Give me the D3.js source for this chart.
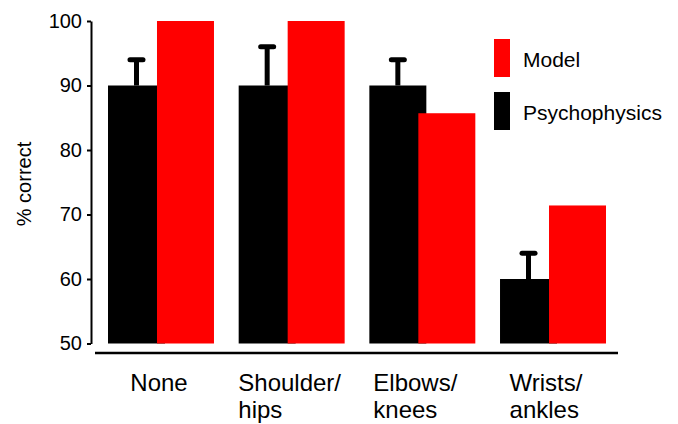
<!DOCTYPE html>
<html>
<head>
<meta charset="utf-8">
<script src="https://cdn.jsdelivr.net/npm/d3@7"></script>
<style>
  html, body { margin: 0; padding: 0; background: #fff; }
  svg { display: block; font-family: "Liberation Sans", Arial, Helvetica, sans-serif; }
</style>
</head>
<body>
<svg id="chart" width="678" height="424"></svg>
<script>
// ---- data ----
const categories = [["None"], ["Shoulder/", "hips"], ["Elbows/", "knees"], ["Wrists/", "ankles"]];
const psychophysics = [90, 90, 90, 60];
const psychophysicsErrTop = [94, 96, 94, 64];
const model = [100, 100, 85.7, 71.4];
const yTicks = [50, 60, 70, 80, 90, 100];
const seriesNames = ["Model", "Psychophysics"];
const seriesColors = ["#ff0000", "#000000"];

// ---- layout ----
const svg = d3.select("#chart");
const keys = categories.map(c => c.join(" "));

const y = d3.scaleLinear().domain([50, 100]).range([343.5, 21]);
const x = d3.scaleBand().domain(keys).range([108, 606]).paddingInner(0.189).paddingOuter(0);
const bw = x.bandwidth();
const barW = bw * 57 / 106;
const redOff = bw * 49 / 106;

// y axis
const yAxis = d3.axisLeft(y).tickValues(yTicks).tickSize(4).tickSizeOuter(0).tickPadding(5);
const gy = svg.append("g").attr("transform", "translate(91,0)").call(yAxis);
gy.select(".domain").attr("stroke", "#000").attr("stroke-width", 2);
gy.selectAll(".tick line").attr("stroke", "#000").attr("stroke-width", 2);
gy.selectAll(".tick text").attr("font-size", 20).attr("fill", "#000")
  .attr("font-family", "Liberation Sans, Arial, sans-serif");

// y label
svg.append("text")
  .attr("transform", "translate(31,184) rotate(-90)")
  .attr("text-anchor", "middle")
  .attr("font-size", 20)
  .text("% correct");

// x axis line
svg.append("line").attr("x1", 95).attr("x2", 618).attr("y1", 353).attr("y2", 353)
  .attr("stroke", "#000").attr("stroke-width", 2.5);

// psychophysics bars (black)
svg.append("g").selectAll("rect").data(psychophysics).join("rect")
  .attr("x", (d, i) => x(keys[i]))
  .attr("y", d => y(d))
  .attr("width", barW)
  .attr("height", d => y(50) - y(d))
  .attr("fill", seriesColors[1]);

// model bars (red)
svg.append("g").selectAll("rect").data(model).join("rect")
  .attr("x", (d, i) => x(keys[i]) + redOff)
  .attr("y", d => y(d))
  .attr("width", barW)
  .attr("height", d => y(50) - y(d))
  .attr("fill", seriesColors[0]);

// error bars
const eg = svg.append("g");
psychophysics.forEach((v, i) => {
  const cx = x(keys[i]) + barW / 2;
  eg.append("line").attr("x1", cx).attr("x2", cx)
    .attr("y1", y(v)).attr("y2", y(psychophysicsErrTop[i]))
    .attr("stroke", "#000").attr("stroke-width", 5);
  eg.append("line").attr("x1", cx - 6.5).attr("x2", cx + 6.5)
    .attr("y1", y(psychophysicsErrTop[i])).attr("y2", y(psychophysicsErrTop[i]))
    .attr("stroke", "#000").attr("stroke-width", 5).attr("stroke-linecap", "round");
});

// category labels
const lg = svg.append("g");
categories.forEach((lines, i) => {
  const cx = x(keys[i]) + bw / 2;
  const t1 = lg.append("text").attr("font-size", 24).attr("y", 391).text(lines[0]);
  const w = t1.node().getComputedTextLength();
  const left = cx - w / 2 - 2 - (i >= 2 ? 5 : 0);
  t1.attr("x", left);
  if (lines[1]) {
    lg.append("text").attr("font-size", 24).attr("x", left).attr("y", 418).text(lines[1]);
  }
});

// legend
const leg = svg.append("g");
seriesNames.forEach((name, i) => {
  const top = 39 + i * 53;
  leg.append("rect").attr("x", 494).attr("y", top).attr("width", 16).attr("height", 38)
    .attr("fill", seriesColors[i]);
  leg.append("text").attr("x", 523).attr("y", top + 28).attr("font-size", 21).text(name);
});
</script>
</body>
</html>
